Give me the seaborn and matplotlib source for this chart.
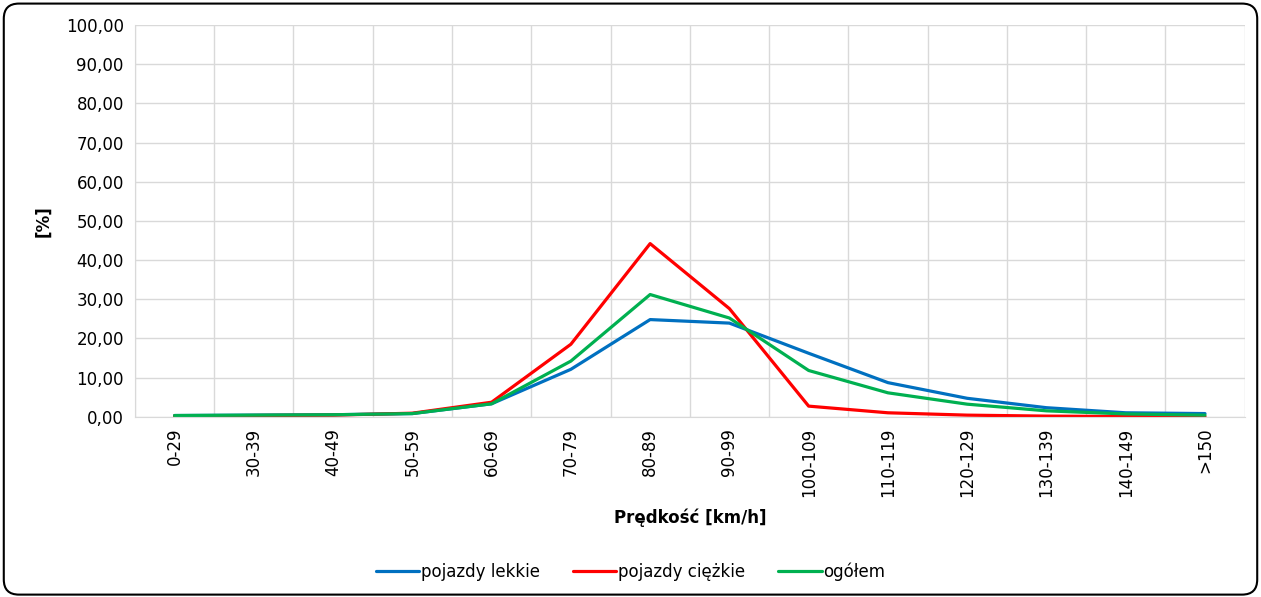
import matplotlib
matplotlib.use("Agg")
from matplotlib import pyplot as plt
from matplotlib.patches import FancyBboxPatch
from matplotlib.ticker import FixedLocator, FuncFormatter
import numpy as np
import pandas as pd
import seaborn as sns

speed_bins = ["0-29", "30-39", "40-49", "50-59", "60-69", "70-79", "80-89",
              "90-99", "100-109", "110-119", "120-129", "130-139", "140-149", ">150"]
light = [0.3, 0.4, 0.5, 0.8, 3.3, 12.1, 24.8, 23.9, 16.2, 8.7, 4.7, 2.3, 1.0, 0.8]
heavy = [0.2, 0.3, 0.4, 0.9, 3.7, 18.5, 44.2, 27.6, 2.7, 1.0, 0.4, 0.15, 0.05, 0.02]
total = [0.3, 0.4, 0.5, 0.8, 3.3, 14.2, 31.2, 25.2, 11.8, 6.1, 3.2, 1.5, 0.7, 0.4]
series = ["pojazdy lekkie", "pojazdy ciężkie", "ogółem"]
colors = ["#0070C0", "#FF0000", "#00B050"]

df = pd.DataFrame({
    "pos": list(range(len(speed_bins))) * 3,
    "val": light + heavy + total,
    "series": [s for s in series for _ in speed_bins],
})

sns.set_style("white")
plt.rcParams["font.family"] = ["DejaVu Sans"]
plt.rcParams["text.color"] = "black"
plt.rcParams["xtick.color"] = "black"
plt.rcParams["ytick.color"] = "black"
plt.rcParams["axes.labelcolor"] = "black"

fig = plt.figure(figsize=(12.61, 5.97), dpi=100)
ax = fig.add_axes([0.107, 0.302, 0.880, 0.656])

sns.lineplot(data=df, x="pos", y="val", hue="series", palette=colors,
             linewidth=2.3, ax=ax, legend=True)

ax.set_xlim(-0.5, len(speed_bins) - 0.5)
ax.set_ylim(0, 100)
ax.set_yticks(np.arange(0, 101, 10))
ax.yaxis.set_major_formatter(FuncFormatter(lambda v, p: f"{v:.2f}".replace(".", ",")))
ax.set_xticks(range(len(speed_bins)))
ax.set_xticklabels(speed_bins, rotation=90)
ax.xaxis.set_minor_locator(FixedLocator(np.arange(-0.5, len(speed_bins), 1)))

ax.grid(axis="y", color="#d9d9d9", linewidth=1)
ax.grid(axis="x", which="minor", color="#d9d9d9", linewidth=1)
ax.tick_params(axis="x", which="major", length=0, labelsize=12, pad=8)
ax.tick_params(axis="x", which="minor", length=8, color="#d9d9d9", width=1)
ax.tick_params(axis="y", length=0, labelsize=12, pad=8)
for side in ["top", "right"]:
    ax.spines[side].set_visible(False)
ax.spines["left"].set_color("#d9d9d9")
ax.spines["bottom"].set_color("#d9d9d9")

ax.set_xlabel("Prędkość [km/h]", fontsize=12, fontweight="bold", labelpad=8)
ax.set_ylabel("[%]", fontsize=12, fontweight="bold", labelpad=10)

handles, labels = ax.get_legend_handles_labels()
ax.legend(handles, labels, loc="center", bbox_to_anchor=(0.5, 0.042),
          bbox_transform=fig.transFigure, ncol=3, frameon=False, fontsize=12,
          handlelength=2.6, handletextpad=0.1, columnspacing=2.0)

frame = FancyBboxPatch((0.003, 0.004), 0.994, 0.99, boxstyle="round,pad=0,rounding_size=0.012",
                       transform=fig.transFigure, fill=False, edgecolor="black",
                       linewidth=1.5, mutation_aspect=1261 / 597)
fig.patches.append(frame)

fig.savefig("out.png", dpi=100)
